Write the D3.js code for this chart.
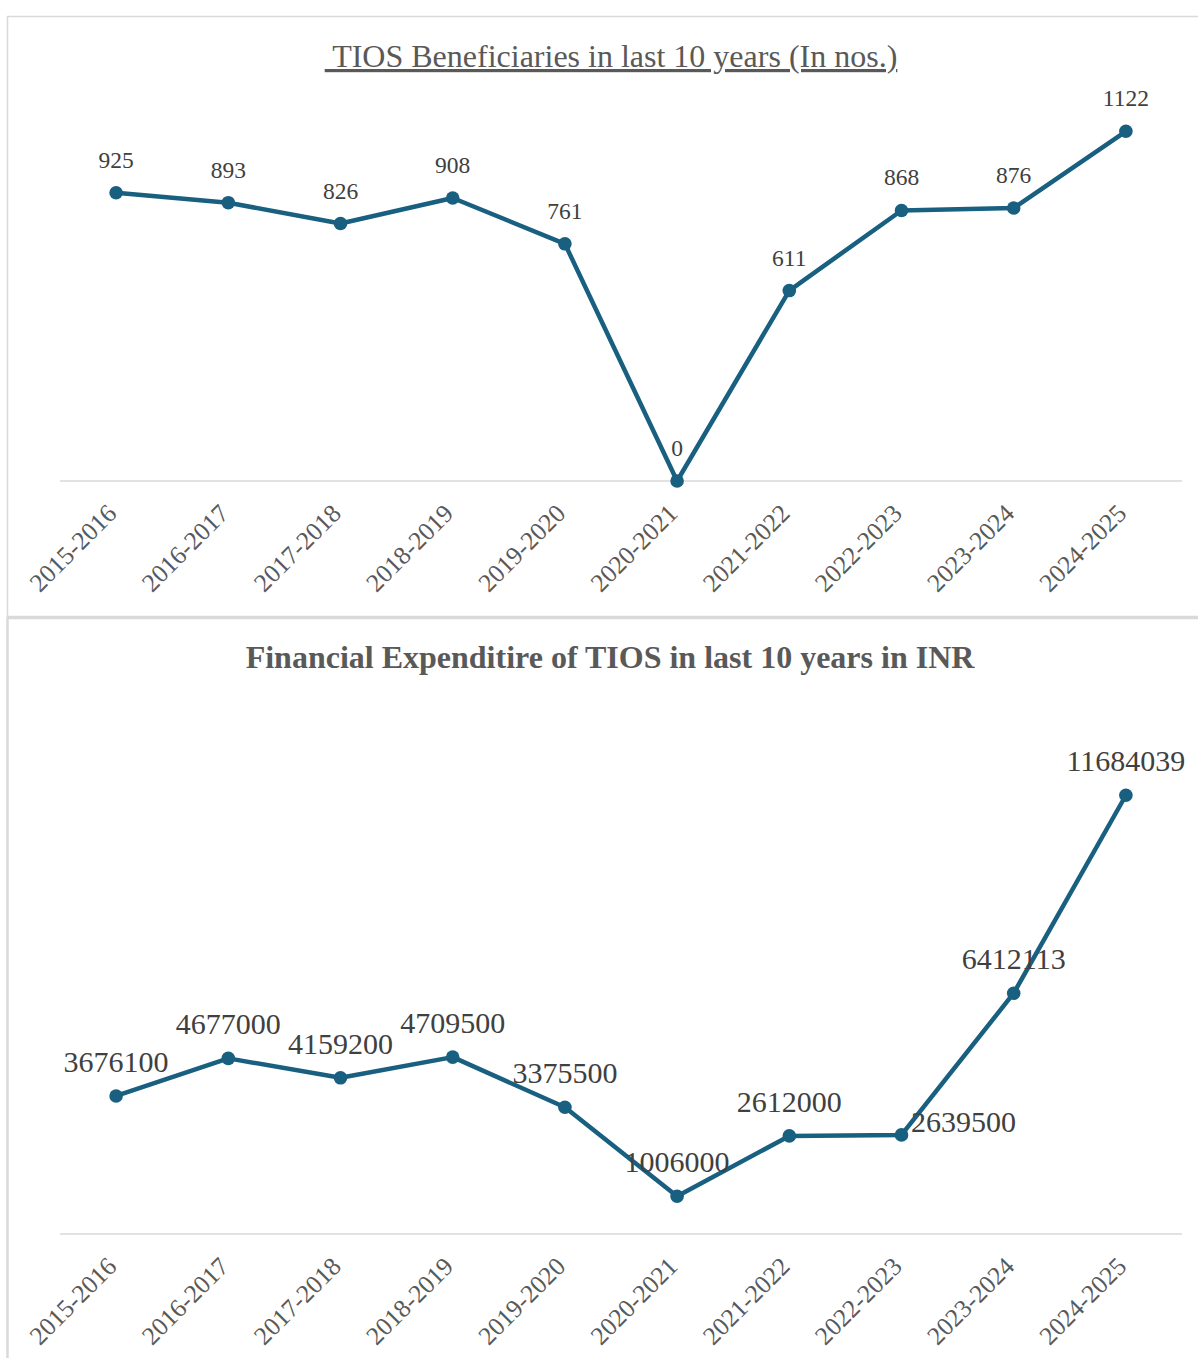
<!DOCTYPE html>
<html>
  <head>
    <meta charset="utf-8">
    <script src="https://cdn.jsdelivr.net/npm/d3@7"></script>
    <style>
      body { margin: 0; background: #fff; }
      svg text { font-family: "Liberation Serif", Tinos, "Times New Roman", "DejaVu Serif", serif; }
    </style>
  </head>
  <body>
    <svg width="1198" height="1358"></svg>
    <script>

      // Data
      var years = ["2015-2016", "2016-2017", "2017-2018", "2018-2019", "2019-2020",
                   "2020-2021", "2021-2022", "2022-2023", "2023-2024", "2024-2025"];
      var beneficiaries = [925, 893, 826, 908, 761, 0, 611, 868, 876, 1122];
      var expenditure = [3676100, 4677000, 4159200, 4709500, 3375500,
                         1006000, 2612000, 2639500, 6412113, 11684039];

      // label nudges for the lower chart (Excel moved one of them)
      var expLabelDx = [0, 0, 0, 0, 0, 0, 0, 62, 0, 0];
      var expLabelDy = [0, 0, 0, 0, 0, 0, 0, 21, 0, 0];

      var svg = d3.select("svg");
      var lineColor = "#195f80";
      var serif = "'Liberation Serif', Tinos, 'Times New Roman', 'DejaVu Serif', serif";

      // chart frames
      svg.append("rect")
        .attr("x", 7.5).attr("y", 16.5)
        .attr("width", 1200).attr("height", 600)
        .attr("fill", "none").attr("stroke", "#d9d9d9").attr("stroke-width", 1.5);
      svg.append("rect")
        .attr("x", 7.5).attr("y", 618)
        .attr("width", 1200).attr("height", 760)
        .attr("fill", "none").attr("stroke", "#d9d9d9").attr("stroke-width", 2.5);

      var x = d3.scaleBand()
        .domain(years)
        .range([60, 1182]);

      function drawChart(values, yScale, base, opts) {
        var g = svg.append("g");

        // baseline
        g.append("line")
          .attr("x1", 60).attr("x2", 1182)
          .attr("y1", base).attr("y2", base)
          .attr("stroke", "#d9d9d9").attr("stroke-width", 1.5);

        // x axis labels
        var axis = g.append("g")
          .attr("transform", "translate(0," + base + ")")
          .call(d3.axisBottom(x).tickSize(0));
        axis.attr("font-family", serif);
        axis.select(".domain").remove();
        axis.selectAll("text")
          .attr("x", 0).attr("y", 0).attr("dy", 0)
          .attr("transform", "translate(2,34) rotate(-45)")
          .style("text-anchor", "end")
          .style("font-size", "25.5px")
          .attr("fill", "#595959");

        var line = d3.line()
          .x(function(d, i) { return x(years[i]) + x.bandwidth() / 2; })
          .y(function(d) { return yScale(d); });

        g.append("path")
          .datum(values)
          .attr("d", line)
          .attr("fill", "none")
          .attr("stroke", lineColor)
          .attr("stroke-width", 4.5)
          .attr("stroke-linejoin", "round");

        g.selectAll(".dot")
          .data(values)
          .enter()
          .append("circle")
          .attr("class", "dot")
          .attr("cx", function(d, i) { return x(years[i]) + x.bandwidth() / 2; })
          .attr("cy", function(d) { return yScale(d); })
          .attr("r", 6.8)
          .attr("fill", lineColor);

        g.selectAll(".lbl")
          .data(values)
          .enter()
          .append("text")
          .attr("class", "lbl")
          .attr("x", function(d, i) { return x(years[i]) + x.bandwidth() / 2 + opts.dx[i]; })
          .attr("y", function(d, i) { return yScale(d) - opts.lift + opts.dy[i]; })
          .attr("text-anchor", "middle")
          .style("font-size", opts.size + "px")
          .attr("fill", "#404040")
          .text(function(d) { return d; });
      }

      // ---- top chart ----
      svg.append("text")
        .attr("x", 611).attr("y", 67)
        .attr("text-anchor", "middle")
        .attr("xml:space", "preserve")
        .style("font-size", "32px")
        .style("text-decoration", "underline")
        .attr("fill", "#595959")
        .text(" TIOS Beneficiaries in last 10 years (In nos.)");

      var y1 = d3.scaleLinear().domain([0, 1200]).range([481, 107]);
      drawChart(beneficiaries, y1, 481, {
        size: 23.5, lift: 25,
        dx: d3.range(10).map(function() { return 0; }),
        dy: d3.range(10).map(function() { return 0; })
      });

      // ---- bottom chart ----
      svg.append("text")
        .attr("x", 610).attr("y", 668)
        .attr("text-anchor", "middle")
        .style("font-size", "32px")
        .style("font-weight", "bold")
        .attr("fill", "#595959")
        .text("Financial Expenditire of TIOS in last 10 years in INR");

      var y2 = d3.scaleLinear().domain([0, 14000000]).range([1234, 708.3]);
      drawChart(expenditure, y2, 1234, {
        size: 30, lift: 24,
        dx: expLabelDx,
        dy: expLabelDy
      });

    </script>
  </body>
</html>
